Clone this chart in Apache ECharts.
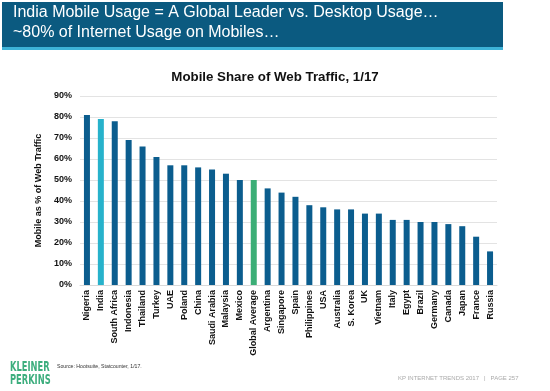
<!DOCTYPE html>
<html>
<head>
<meta charset="utf-8">
<script src="https://cdn.jsdelivr.net/npm/echarts@6/dist/echarts.min.js"></script>
<style>html,body{margin:0;padding:0;background:#fff}#c{width:550px;height:391px}</style>
</head>
<body>
<div id="c"></div>
<script>
var categories = ["Nigeria","India","South Africa","Indonesia","Thailand","Turkey","UAE","Poland","China","Saudi Arabia","Malaysia","Mexico","Global Average","Argentina","Singapore","Spain","Philippines","USA","Australia","S. Korea","UK","Vietnam","Italy","Egypt","Brazil","Germany","Canada","Japan","France","Russia"];
var values = [81,79,78,69,66,61,57,57,56,55,53,50,50,46,44,42,38,37,36,36,34,34,31,31,30,30,29,28,23,16];
var yTicks = [0,10,20,30,40,50,60,70,80,90];
var highlight = {"India":"#27b2cb","Global Average":"#3bae76"};
var baseColor = "#0b5d8e";

var chart = echarts.init(document.getElementById('c'), null, {renderer:'canvas'});
var font = 'Liberation Sans, Arial, sans-serif';
chart.setOption({
  animation:false,
  title:{text:'Mobile Share of Web Traffic, 1/17', left:270, top:66, textAlign:'center',
    textStyle:{fontFamily:font, fontSize:13.3, fontWeight:'bold', color:'#111'}},
  grid:{left:80, right:53, top:96, bottom:106},
  xAxis:{type:'category', data:categories,
    axisLine:{show:true, lineStyle:{color:'#d9d9d9'}}, axisTick:{show:false},
    axisLabel:{interval:0, rotate:90, fontFamily:font, fontSize:9, fontWeight:'bold', color:'#111', margin:5}},
  yAxis:{type:'value', min:yTicks[0], max:yTicks[yTicks.length-1], interval:10,
    name:'Mobile as % of Web Traffic', nameLocation:'middle', nameGap:36, nameRotate:90,
    nameTextStyle:{fontFamily:font, fontSize:9, fontWeight:'bold', color:'#111'},
    axisLabel:{formatter:'{value}%', fontFamily:font, fontSize:9, fontWeight:'bold', color:'#111', margin:8},
    axisLine:{show:false}, axisTick:{show:false},
    splitLine:{lineStyle:{color:'#e3e3e3'}}},
  series:[{type:'bar', barWidth:6,
    data:values.map(function(v,i){return {value:v, itemStyle:{color: highlight[categories[i]] || baseColor}};})}],
  graphic:[
    {type:'rect', shape:{x:2,y:2,width:501,height:45}, style:{fill:'#0b5a80'}},
    {type:'rect', shape:{x:2,y:47,width:501,height:3}, style:{fill:'#3db3d8'}},
    {type:'text', x:13, y:5, style:{text:'India Mobile Usage = A Global Leader vs. Desktop Usage…', fill:'#fff', font:'16px Liberation Sans, Arial, sans-serif'}},
    {type:'text', x:13, y:25, style:{text:'~80% of Internet Usage on Mobiles…', fill:'#fff', font:'16px Liberation Sans, Arial, sans-serif'}},
    {type:'text', x:10, y:361, scaleX:0.66, style:{text:'KLEINER\nPERKINS', fill:'#3dae7e', font:'bold 14px "DejaVu Sans Condensed", "Liberation Sans", sans-serif', lineHeight:13}},
    {type:'text', x:57, y:364, style:{text:'Source: Hootsuite, Statcounter, 1/17.', fill:'#333', font:'5.2px Liberation Sans, Arial, sans-serif'}},
    {type:'text', x:398, y:375, style:{text:'KP INTERNET TRENDS 2017   |   PAGE 257', fill:'#aaa', font:'6px Liberation Sans, Arial, sans-serif'}}
  ]
});
</script>
</body>
</html>
